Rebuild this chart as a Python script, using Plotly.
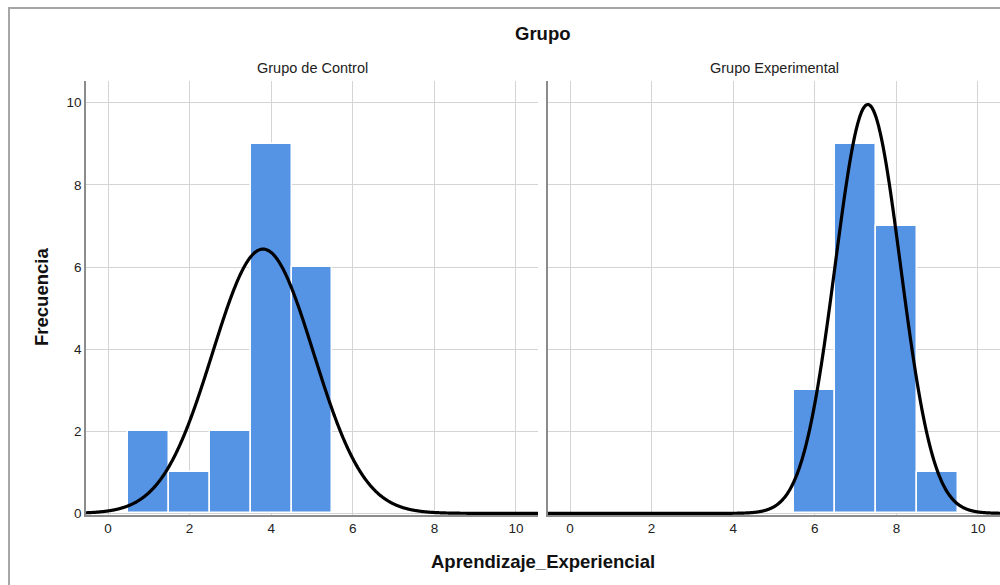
import numpy as np
import plotly.graph_objects as go

# Data
bins = [0, 1, 2, 3, 4, 5, 6, 7, 8, 9, 10]
control_counts = [0, 2, 1, 2, 9, 6, 0, 0, 0, 0, 0]
experimental_counts = [0, 0, 0, 0, 0, 0, 3, 9, 7, 1, 0]
x_ticks = [0, 2, 4, 6, 8, 10]
y_ticks = [0, 2, 4, 6, 8, 10]
panel_titles = ["Grupo de Control", "Grupo Experimental"]

BAR = "#5593e4"
GRID = "#d4d4d4"
AXIS = "#8c8c8c"
FONT = "Liberation Sans, Arial, sans-serif"


def normal_curve(counts):
    v = np.repeat(bins, counts).astype(float)
    n = len(v)
    mu = v.mean()
    sd = v.std(ddof=1)
    xs = np.linspace(-0.6, 10.6, 800)
    ys = n * 1.0 / (sd * np.sqrt(2 * np.pi)) * np.exp(-0.5 * ((xs - mu) / sd) ** 2)
    return xs, ys


fig = go.Figure()
xr = [-0.54, 10.54]
yr = [-0.04, 10.53]

for i, counts in enumerate([control_counts, experimental_counts]):
    xa = "x" if i == 0 else "x2"
    ya = "y" if i == 0 else "y2"
    bx = [b for b, c in zip(bins, counts) if c > 0]
    by = [c for c in counts if c > 0]
    fig.add_trace(go.Bar(x=bx, y=by, width=1, xaxis=xa, yaxis=ya,
                         marker=dict(color=BAR, line=dict(color="white", width=1.5)),
                         showlegend=False, hoverinfo="skip"))
    cx, cy = normal_curve(counts)
    fig.add_trace(go.Scatter(x=cx, y=cy, mode="lines", xaxis=xa, yaxis=ya,
                             line=dict(color="black", width=3.2, shape="spline"),
                             showlegend=False, hoverinfo="skip"))

axis_common = dict(showgrid=True, gridcolor=GRID, gridwidth=1.2, zeroline=False,
                   showline=True, linecolor=AXIS, linewidth=1.5, ticks="",
                   tickfont=dict(family=FONT, size=13.5, color="#222"))

W, H = 1000, 585
ml, mr, mt, mb = 86, 0, 81, 70
pw = W - ml - mr
ph = H - mt - mb
d1 = (538 - ml) / pw
d2 = (548 - ml) / pw

fig.update_layout(
    width=W, height=H,
    margin=dict(l=ml, r=mr, t=mt, b=mb),
    paper_bgcolor="white", plot_bgcolor="white",
    bargap=0,
    font=dict(family=FONT, color="#222"),
    xaxis=dict(domain=[0, d1], range=xr, tickvals=x_ticks, **axis_common),
    xaxis2=dict(domain=[d2, 1], range=xr, tickvals=x_ticks, **axis_common),
    yaxis=dict(domain=[0, 1], range=yr, tickvals=y_ticks, anchor="x", **axis_common),
    yaxis2=dict(domain=[0, 1], range=yr, tickvals=y_ticks, anchor="x2",
                showticklabels=False, **{k: v for k, v in axis_common.items() if k != "tickfont"}),
)


def px_x(p):
    return (p - ml) / pw


def px_y(p):
    return (H - mb - p) / ph


# outer frame
fig.add_shape(type="rect", xref="paper", yref="paper",
              x0=px_x(9), x1=px_x(1010), y0=px_y(600), y1=px_y(8),
              line=dict(color="#a6a6a6", width=2), fillcolor="rgba(0,0,0,0)", layer="below")


def label(text, x, y, size, angle=0, bold=False):
    fig.add_annotation(text=f"<b>{text}</b>" if bold else text, xref="paper", yref="paper",
                       x=px_x(x), y=px_y(y), xanchor="center", yanchor="middle",
                       showarrow=False, textangle=angle,
                       font=dict(family=FONT, size=size, color="#111" if bold else "#222"))


label("Grupo", 543, 33, 18.5, bold=True)
label(panel_titles[0], 312, 68, 14.5)
label(panel_titles[1], 774, 68, 14.5)
label("Frecuencia", 41, 297, 18.5, angle=-90, bold=True)
label("Aprendizaje_Experiencial", 543, 561, 18.5, bold=True)

fig.write_html("out.html", config={"displayModeBar": False},
               post_script="document.body.style.margin='0px';")
